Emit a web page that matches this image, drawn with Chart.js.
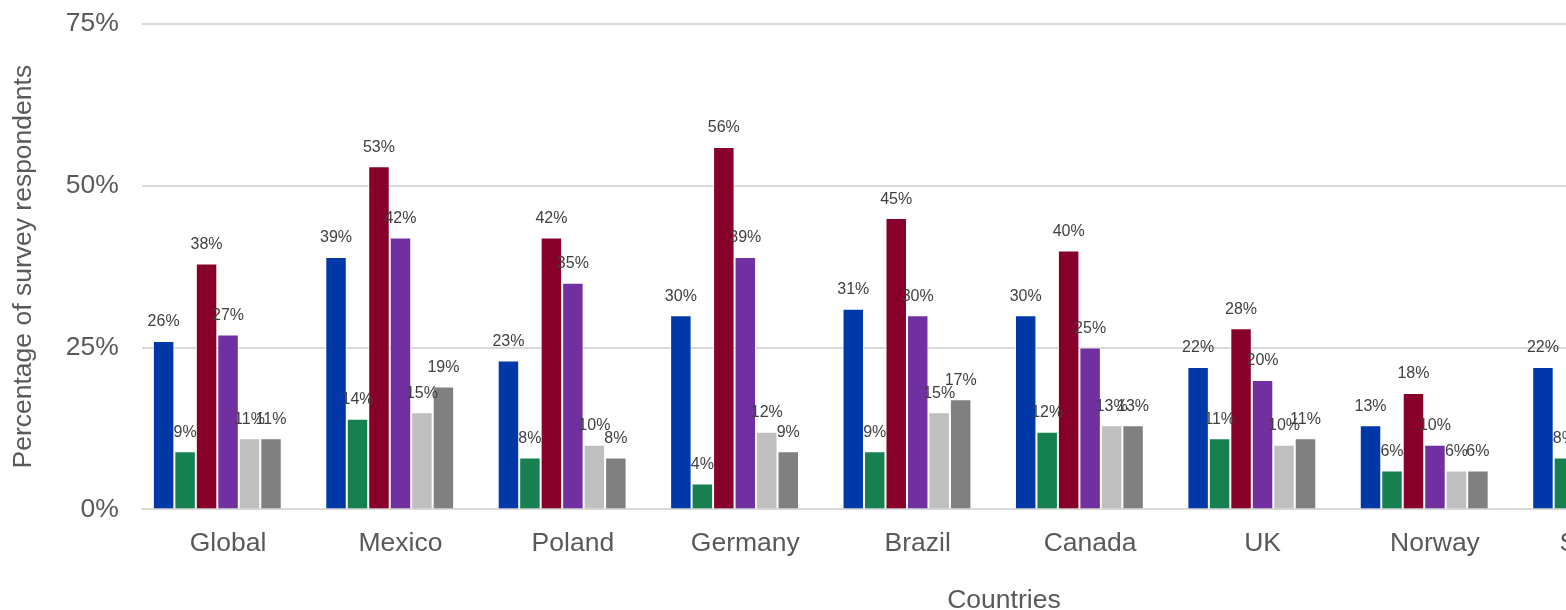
<!DOCTYPE html>
<html>
<head>
<meta charset="utf-8">
<script src="https://cdn.jsdelivr.net/npm/chart.js@4.4.1/dist/chart.umd.min.js"></script>
<style>
  html, body { margin: 0; padding: 0; background: #fff; overflow: hidden; }
  #wrap { width: 1566px; height: 610px; overflow: hidden; }
  #box { width: 1890px; height: 632px; margin-top: -15px; }
</style>
</head>
<body>
<div id="wrap"><div id="box"><canvas id="myChart"></canvas></div></div>
<script>
// --- Données ---
// la 10e catégorie est hors du cadre dans la référence : valeurs inconnues
const countries = ['Global', 'Mexico', 'Poland', 'Germany', 'Brazil', 'Canada', 'UK', 'Norway', 'Sweden', ''];
const serie1 = [26, 39, 23, 30, 31, 30, 22, 13, 22, null];
const serie2 = [9, 14, 8, 4, 9, 12, 11, 6, 8, null];
const serie3 = [38, 53, 42, 56, 45, 40, 28, 18, null, null];
const serie4 = [27, 42, 35, 39, 30, 25, 20, 10, null, null];
const serie5 = [11, 15, 10, 12, 15, 13, 10, 6, null, null];
const serie6 = [11, 19, 8, 9, 17, 13, 11, 6, null, null];
const serie7 = [null, null, null, null, null, null, null, null, null, null];
const yTicks = [0, 25, 50, 75];

const colors = ['#0038A8', '#178050', '#870029', '#7030A0', '#BFBFBF', '#808080', '#A6A6A6'];
const series = [serie1, serie2, serie3, serie4, serie5, serie6, serie7];

const fontFamily = '"Liberation Sans", Arial, sans-serif';

// --- Étiquettes de valeurs au-dessus des barres ---
const valueLabels = {
    id: 'valueLabels',
    afterDatasetsDraw(chart) {
        const ctx = chart.ctx;
        ctx.save();
        ctx.font = '16px ' + fontFamily;
        ctx.fillStyle = '#404040';
        ctx.textAlign = 'center';
        ctx.textBaseline = 'bottom';
        chart.data.datasets.forEach((ds, i) => {
            chart.getDatasetMeta(i).data.forEach((bar, j) => {
                const v = ds.data[j];
                if (v === null || v === undefined) return;
                ctx.fillText(v + '%', bar.x, bar.y - 11);
            });
        });
        ctx.restore();
    }
};

const ctx = document.getElementById('myChart').getContext('2d');
new Chart(ctx, {
    type: 'bar',
    data: {
        labels: countries,
        datasets: series.map((d, i) => ({
            label: 'Série ' + (i + 1),
            data: d,
            backgroundColor: colors[i],
            borderColor: '#ffffff',
            borderWidth: 1,
            categoryPercentage: 0.872,
            barPercentage: 1
        }))
    },
    options: {
        responsive: true,
        maintainAspectRatio: false,
        animation: false,
        layout: { padding: { top: 16, right: 24, left: 8, bottom: 0 } },
        plugins: {
            legend: { display: false },
            tooltip: { enabled: false }
        },
        scales: {
            x: {
                grid: { display: false },
                border: { color: '#d9d9d9', width: 2 },
                ticks: {
                    color: '#595959',
                    font: { family: fontFamily, size: 26.5 },
                    padding: 10,
                    maxRotation: 0
                },
                title: {
                    display: true,
                    text: 'Countries',
                    color: '#595959',
                    font: { family: fontFamily, size: 26.5 },
                    padding: { top: 16, bottom: 0 }
                }
            },
            y: {
                min: 0,
                max: 75,
                afterBuildTicks: axis => { axis.ticks = yTicks.map(v => ({ value: v })); },
                grid: { color: '#d9d9d9', lineWidth: 2, drawTicks: false },
                border: { display: false },
                ticks: {
                    color: '#595959',
                    font: { family: fontFamily, size: 26.5 },
                    padding: 23,
                    callback: v => v + '%'
                },
                title: {
                    display: true,
                    text: 'Percentage of survey respondents',
                    color: '#595959',
                    font: { family: fontFamily, size: 26.5 },
                    padding: { top: 0, bottom: 3 }
                }
            }
        }
    },
    plugins: [valueLabels]
});
</script>
</body>
</html>
